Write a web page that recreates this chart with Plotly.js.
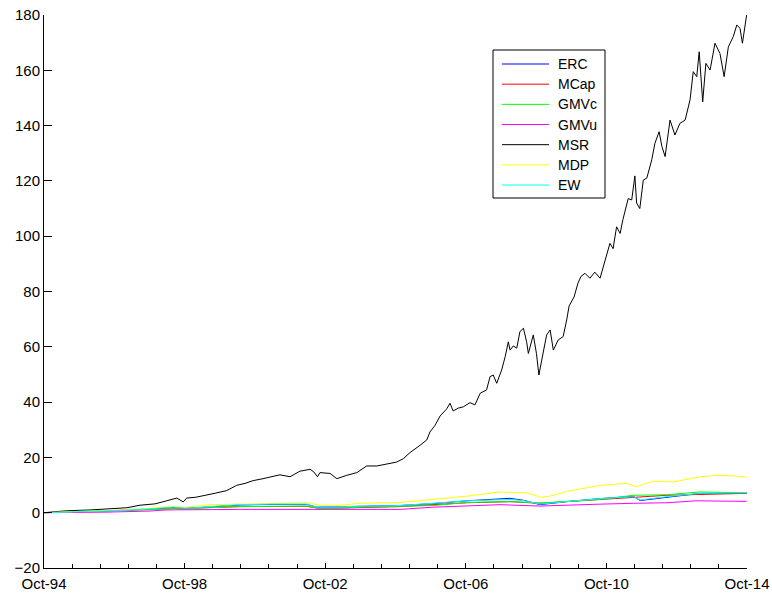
<!DOCTYPE html>
<html>
<head>
<meta charset="utf-8">
<script src="https://cdn.plot.ly/plotly-3.0.1.min.js"></script>
<style>
html,body{margin:0;padding:0;background:#fff;}
#chart{width:772px;height:597px;}
</style>
</head>
<body>
<div id="chart"></div>
<script>
// x values are decimal years (Oct-94 = 1994.75)
const seriesNames = ['ERC','MCap','GMVc','GMVu','MSR','MDP','EW'];
const seriesColors = ['#0000ff','#ff0000','#00ff00','#ff00ff','#000000','#ffff00','#00ffff'];

const tickValues = [1994.75, 1998.75, 2002.75, 2006.75, 2010.75, 2014.75];
const tickLabels = ['Oct-94','Oct-98','Oct-02','Oct-06','Oct-10','Oct-14'];

const msrX = [1994.75,1995.06,1995.40,1996.06,1996.72,1997.11,1997.48,1997.91,1998.24,1998.53,1998.71,1998.81,
  1999.07,1999.38,1999.64,1999.95,2000.23,2000.47,2000.70,2000.98,2001.27,2001.46,2001.75,2002.03,2002.32,2002.42,
  2002.53,2002.60,2002.89,2003.08,2003.36,2003.65,2003.93,2004.22,2004.50,2004.78,2004.97,2005.16,2005.45,2005.64,
  2005.73,2005.87,2006.02,2006.21,2006.30,2006.39,2006.53,2006.68,2006.87,2007.01,2007.16,2007.34,2007.44,2007.53,
  2007.63,2007.77,2007.87,2007.96,2008.01,2008.10,2008.20,2008.29,2008.39,2008.48,2008.53,2008.67,2008.76,2008.83,
  2008.91,2009.05,2009.15,2009.24,2009.38,2009.52,2009.62,2009.69,2009.83,2009.94,2010.03,2010.14,2010.28,2010.42,
  2010.57,2010.71,2010.85,2010.94,2011.04,2011.14,2011.22,2011.37,2011.47,2011.56,2011.61,2011.70,2011.80,2011.90,
  2012.04,2012.13,2012.25,2012.33,2012.42,2012.56,2012.70,2012.84,2012.99,2013.13,2013.22,2013.32,2013.39,2013.49,
  2013.58,2013.70,2013.84,2013.98,2014.10,2014.22,2014.36,2014.46,2014.55,2014.62,2014.74];
const msrY = [0,0.3,0.7,1.0,1.4,1.8,2.7,3.2,4.3,5.3,3.9,5.3,
  5.6,6.3,7.1,8.0,9.9,10.6,11.6,12.3,13.0,13.7,13.0,15.0,15.7,14.8,
  13.0,14.5,14.2,12.3,13.5,14.5,16.9,16.9,17.6,18.3,19.5,21.7,24.4,26.3,
  29.2,31.5,35.0,37.6,39.6,36.8,37.8,38.3,39.8,39.0,43.2,44.4,49.2,49.8,
  46.8,51.6,56.4,61.8,58.8,60.3,59.5,65.5,66.7,61.8,57.6,64.3,57.6,49.8,
  55.2,64.3,66.1,58.8,62.5,63.7,69.7,74.8,78.0,83.0,85.5,86.6,84.8,87.0,
  84.8,91.4,97.4,95.5,103.4,101.0,106.0,113.6,113.1,121.8,112.0,110.0,120.3,121.0,
  127.6,133.6,137.8,132.4,128.8,142.0,136.6,140.8,142.0,149.3,159.5,157.7,166.7,148.6,
  162.5,160.1,169.8,166.1,157.7,168.5,172.2,176.4,175.2,169.8,180.0];

const mdpX = [1994.75,1995.77,1996.91,1997.77,1998.43,1998.76,1999.47,2000.33,2001.27,2002.22,2002.60,2003.17,
  2003.74,2004.88,2005.83,2006.78,2007.72,2008.48,2008.67,2008.86,2009.15,2009.62,2010.57,2011.33,2011.61,2012.08,
  2012.65,2013.41,2013.89,2014.36,2014.74];
const mdpY = [0,0.4,1.0,1.6,2.4,1.9,2.9,3.1,3.4,3.6,2.7,2.7,
  3.4,3.7,4.8,6.0,7.5,7.2,6.5,5.6,6.0,7.7,9.9,10.6,9.4,11.4,
  11.1,13.0,13.5,13.3,12.8];

const ewX = [1994.75,1995.77,1996.91,1997.77,1998.43,1998.76,1999.47,2000.33,2001.27,2002.22,2002.51,2003.17,
  2004.11,2004.88,2005.83,2006.78,2008.01,2008.43,2008.86,2009.62,2010.57,2011.52,2011.71,2012.47,2013.41,2014.74];
const ewY = [0,0.3,0.8,1.4,2.0,1.6,2.3,2.9,3.1,3.1,2.0,2.2,
  2.4,2.6,3.4,4.3,4.8,4.3,3.1,4.1,5.1,5.8,4.6,5.8,7.0,7.2];

const ercX = [1994.75,1995.77,1996.91,1997.77,1998.43,1998.76,1999.47,2000.33,2001.27,2002.22,2002.51,2003.17,
  2004.11,2004.88,2005.83,2006.78,2008.01,2008.43,2008.86,2009.62,2010.57,2011.52,2011.71,2012.47,2013.41,2014.74];
const ercY = [0,0.3,0.8,1.3,1.9,1.5,2.2,2.8,3.0,3.0,2.0,2.1,
  2.4,2.6,3.3,4.3,5.2,4.4,2.9,4.0,5.1,5.9,4.4,5.6,7.0,7.0];

const gmvcX = [1994.75,1995.77,1996.91,1997.77,1998.43,1998.76,1999.47,2000.33,2001.27,2002.22,2002.60,2003.17,
  2003.74,2004.88,2005.83,2006.78,2008.01,2008.86,2009.62,2010.57,2011.52,2012.47,2013.41,2014.74];
const gmvcY = [0,0.3,0.7,1.1,1.5,1.3,1.8,2.2,2.3,2.4,1.5,1.6,
  2.0,2.2,2.6,3.7,4.0,3.5,4.0,4.8,6.3,6.5,7.5,7.2];

const mcapX = [1994.75,1996.00,1998.43,2000.33,2002.22,2002.60,2004.88,2006.78,2008.01,2008.86,2010.57,2012.47,2014.74];
const mcapY = [0,0.6,1.5,2.2,2.3,1.5,2.2,3.6,4.0,3.4,4.7,6.3,7.0];

const gmvuX = [1994.75,1995.77,1996.50,1997.77,1998.20,2000.33,2002.22,2002.60,2003.74,2004.88,2005.83,2006.78,
  2007.72,2008.86,2009.62,2010.57,2011.52,2012.47,2013.30,2013.90,2014.74];
const gmvuY = [0,0.1,0.2,0.6,1.0,1.2,1.2,1.0,1.0,1.2,2.0,2.4,
  2.9,2.4,2.6,3.1,3.4,3.6,4.3,4.3,4.1];

const xs = [ercX, mcapX, gmvcX, gmvuX, msrX, mdpX, ewX];
const ys = [ercY, mcapY, gmvcY, gmvuY, msrY, mdpY, ewY];

const traces = seriesNames.map((n, i) => ({
  type: 'scatter', mode: 'lines', name: n,
  x: xs[i], y: ys[i],
  line: {color: seriesColors[i], width: 1}
}));

const W = 772, H = 597;
const M = {l: 44, r: 25, t: 15, b: 29};
const PW = W - M.l - M.r, PH = H - M.t - M.b;
const px = v => (v - M.l) / PW;          // pixel -> paper x
const py = v => 1 - (v - M.t) / PH;      // pixel -> paper y

// hand-drawn legend (box + sample lines + labels)
const shapes = [{
  type: 'rect', xref: 'paper', yref: 'paper',
  x0: px(493), x1: px(605), y0: py(50), y1: py(198),
  line: {color: '#000', width: 1}, fillcolor: '#fff', layer: 'above'
}];
const annotations = [];
seriesNames.forEach((n, i) => {
  const yy = 64 + i * 20.17;
  shapes.push({
    type: 'line', xref: 'paper', yref: 'paper',
    x0: px(502), x1: px(549), y0: py(yy), y1: py(yy),
    line: {color: seriesColors[i], width: 1}, layer: 'above'
  });
  annotations.push({
    xref: 'paper', yref: 'paper', x: px(556), y: py(yy),
    xanchor: 'left', yanchor: 'middle', showarrow: false, text: n,
    font: {family: 'Arial, "Liberation Sans", sans-serif', size: 14, color: '#000'}
  });
});

const font = {family: 'Arial, "Liberation Sans", sans-serif', size: 15, color: '#000'};

const layout = {
  width: W, height: H,
  margin: {l: M.l, r: M.r, t: M.t, b: M.b, pad: 0},
  paper_bgcolor: '#fff', plot_bgcolor: '#fff',
  font: font,
  showlegend: false,
  shapes: shapes,
  annotations: annotations,
  xaxis: {
    range: [1994.75, 2014.75],
    tickmode: 'array', tickvals: tickValues, ticktext: tickLabels,
    ticks: 'inside', ticklen: 5, tickwidth: 1, tickcolor: '#000',
    ticklabelstandoff: 2,
    showline: true, linecolor: '#000', linewidth: 1,
    showgrid: false, zeroline: false,
    minor: {tick0: 1994.75, dtick: 0.8, ticks: 'inside', ticklen: 4, tickwidth: 1, tickcolor: '#000', showgrid: false},
    tickfont: font
  },
  yaxis: {
    range: [-20, 180], tick0: -20, dtick: 20,
    ticks: 'inside', ticklen: 8, tickwidth: 1, tickcolor: '#000',
    showline: true, linecolor: '#000', linewidth: 1,
    showgrid: false, zeroline: false,
    tickfont: font
  }
};

Plotly.newPlot('chart', traces, layout, {displayModeBar: false, staticPlot: true});
</script>
</body>
</html>
